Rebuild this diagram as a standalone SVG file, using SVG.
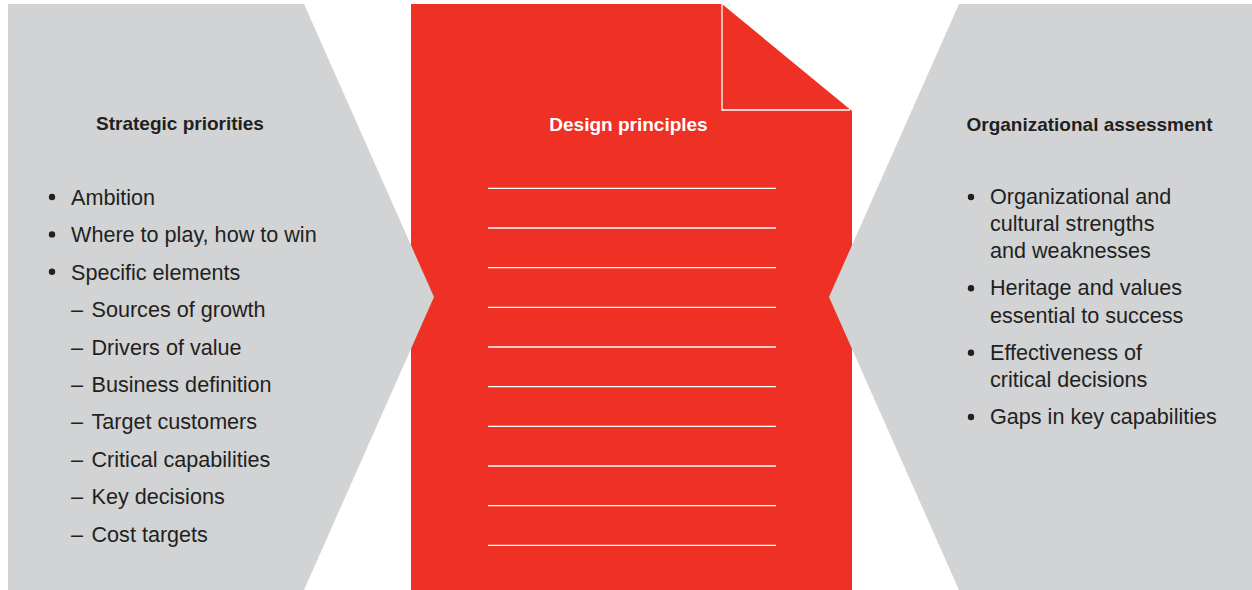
<svg xmlns="http://www.w3.org/2000/svg" width="1252" height="590" viewBox="0 0 1252 590">
<style>
.gray{fill:#d1d3d4}
.red{fill:#ee3124}
.wl{stroke:#ffffff;stroke-width:1.3;fill:none}
.t{font-family:"Liberation Sans",Arial,sans-serif;font-size:21.6px;fill:#231f20}
.h{font-family:"Liberation Sans",Arial,sans-serif;font-size:19px;font-weight:bold;fill:#231f20;text-anchor:middle}
.hw{fill:#ffffff}
.dot{fill:#231f20}
.dash{stroke:#231f20;stroke-width:1.4}
</style>
<rect width="1252" height="590" fill="#ffffff"/>
<g id="design-principles">
<polygon class="red" points="411,4 722,4 852,111 852,590 411,590"/>
<polyline class="wl" points="722,4 722,110 850,110"/>
<g class="wl">
<line x1="488" y1="188.3" x2="776" y2="188.3"/>
<line x1="488" y1="228" x2="776" y2="228"/>
<line x1="488" y1="267.6" x2="776" y2="267.6"/>
<line x1="488" y1="307.3" x2="776" y2="307.3"/>
<line x1="488" y1="347" x2="776" y2="347"/>
<line x1="488" y1="386.7" x2="776" y2="386.7"/>
<line x1="488" y1="426.3" x2="776" y2="426.3"/>
<line x1="488" y1="466" x2="776" y2="466"/>
<line x1="488" y1="505.7" x2="776" y2="505.7"/>
<line x1="488" y1="545.3" x2="776" y2="545.3"/>
</g>
<text class="h hw" x="628.5" y="131">Design principles</text>
</g>
<g id="strategic-priorities">
<polygon class="gray" points="8,4 304,4 434,297 304,590 8,590"/>
<text class="h" x="180" y="130">Strategic priorities</text>
<circle class="dot" cx="52" cy="197" r="3.2"/>
<circle class="dot" cx="52" cy="234.4" r="3.2"/>
<circle class="dot" cx="52" cy="271.8" r="3.2"/>
<text class="t" x="71" y="205">Ambition</text>
<text class="t" x="71" y="242.4">Where to play, how to win</text>
<text class="t" x="71" y="279.8">Specific elements</text>
<text class="t" x="71" y="317.2">–</text>
<text class="t" x="91.5" y="317.2">Sources of growth</text>
<text class="t" x="71" y="354.6">–</text>
<text class="t" x="91.5" y="354.6">Drivers of value</text>
<text class="t" x="71" y="392">–</text>
<text class="t" x="91.5" y="392">Business definition</text>
<text class="t" x="71" y="429.4">–</text>
<text class="t" x="91.5" y="429.4">Target customers</text>
<text class="t" x="71" y="466.8">–</text>
<text class="t" x="91.5" y="466.8">Critical capabilities</text>
<text class="t" x="71" y="504.2">–</text>
<text class="t" x="91.5" y="504.2">Key decisions</text>
<text class="t" x="71" y="541.6">–</text>
<text class="t" x="91.5" y="541.6">Cost targets</text>
</g>
<g id="organizational-assessment">
<polygon class="gray" points="959,4 1252,4 1252,590 959,590 829,297"/>
<text class="h" x="1089.5" y="131">Organizational assessment</text>
<circle class="dot" cx="971" cy="197" r="3.2"/>
<circle class="dot" cx="971" cy="288.3" r="3.2"/>
<circle class="dot" cx="971" cy="352.8" r="3.2"/>
<circle class="dot" cx="971" cy="417" r="3.2"/>
<text class="t" x="990" y="204">Organizational and</text>
<text class="t" x="990" y="231">cultural strengths</text>
<text class="t" x="990" y="258">and weaknesses</text>
<text class="t" x="990" y="295.3">Heritage and values</text>
<text class="t" x="990" y="322.5">essential to success</text>
<text class="t" x="990" y="359.8">Effectiveness of</text>
<text class="t" x="990" y="386.8">critical decisions</text>
<text class="t" x="990" y="424">Gaps in key capabilities</text>
</g>
<g id="connectors"></g>
</svg>
